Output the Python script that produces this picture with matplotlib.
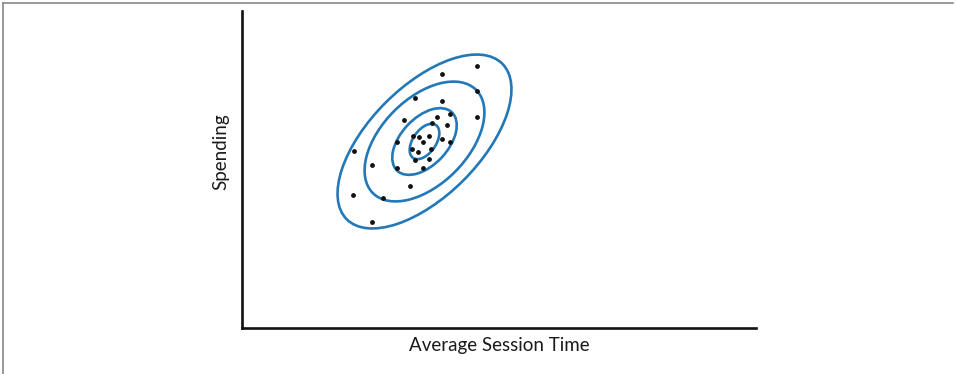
import matplotlib
matplotlib.use("Agg")
import matplotlib.pyplot as plt
from matplotlib.patches import Ellipse
from matplotlib.lines import Line2D
import numpy as np

# Data (arbitrary units; illustrative chart without ticks)
session_time = [234.7, 200, 234.7, 173.3, 200, 207.5, 234.7, 162.3, 194.5, 189.5,
                205, 171, 176.5, 187, 200, 208, 181, 155, 170, 176,
                189, 173, 187, 154.5, 181, 112, 130.3, 168, 111.3, 141.3, 130.3]
spending = [262, 253.7, 237.3, 229.7, 227, 214, 211, 208, 211, 205.5,
            203, 192.2, 191.5, 192.2, 188.8, 186.5, 186.3, 186.5, 178.7, 176,
            178.7, 168, 169, 160, 159.7, 177, 162.7, 142, 133, 130.3, 106]

# contour ellipses: center, full width (major), full height (minor), angle
ell_center = (182.5, 186.5)
ell_major = [40, 80, 146, 220]
ell_minor = [23, 47, 86, 110]
ell_angle = [55, 47, 45, 45]

W, H = 956, 374
fig = plt.figure(figsize=(W / 100, H / 100), dpi=100)
fig.patch.set_facecolor("white")

ax = fig.add_axes([242 / W, (H - 328) / H, 514 / W, 317 / H])
ax.set_xlim(0, 514)
ax.set_ylim(0, 317)
for s in ["top", "right"]:
    ax.spines[s].set_visible(False)
for s in ["left", "bottom"]:
    ax.spines[s].set_linewidth(1.9)
    ax.spines[s].set_color("#111111")
ax.set_xticks([])
ax.set_yticks([])

col = "#2378b8"
for w, h, a in zip(ell_major, ell_minor, ell_angle):
    ax.add_patch(Ellipse(ell_center, w, h, angle=a, fill=False, edgecolor=col, linewidth=1.9))

ax.scatter(session_time, spending, s=6, color="#111111", zorder=3)

fam = ["Lato", "DejaVu Sans"]
fig.text(499 / W, 1 - 346 / H, "Average Session Time", ha="center", va="center",
         fontsize=13.5, family=fam, color="#1a1a1a")
fig.text(221 / W, 1 - 152 / H, "Spending", ha="center", va="center", rotation=90,
         fontsize=13.5, family=fam, color="#1a1a1a")

# frame lines around the figure
fig.add_artist(Line2D([3 / W, 953 / W], [1 - 3 / H, 1 - 3 / H], transform=fig.transFigure,
                      color="#888888", linewidth=1.2))
fig.add_artist(Line2D([3 / W, 3 / W], [1 - 3 / H, 0], transform=fig.transFigure,
                      color="#888888", linewidth=1.2))

fig.savefig("out.png", dpi=100, facecolor="white")
